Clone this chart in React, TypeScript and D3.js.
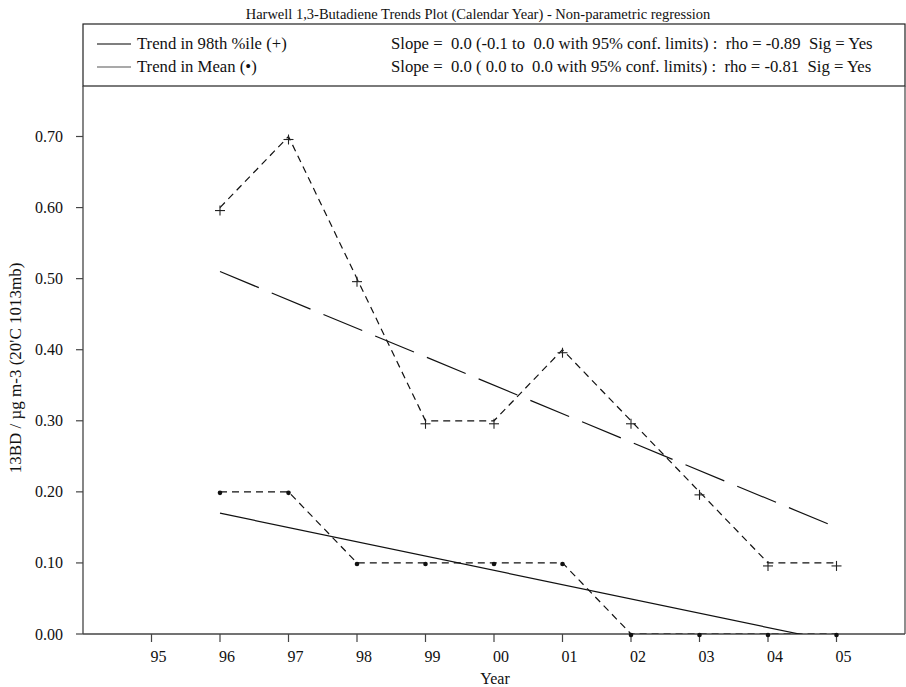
import React from "react";
import * as d3 from "d3";

const years = [1996, 1997, 1998, 1999, 2000, 2001, 2002, 2003, 2004, 2005];
const p98 = [0.6, 0.7, 0.5, 0.3, 0.3, 0.4, 0.3, 0.2, 0.1, 0.1];
const meanVals = [0.2, 0.2, 0.1, 0.1, 0.1, 0.1, 0.0, 0.0, 0.0, 0.0];
const trendP98 = [
  [1996, 0.51],
  [2005, 0.15],
];
const trendMean = [
  [1996, 0.17],
  [2005, -0.011],
];
const xTicks = [1995, 1996, 1997, 1998, 1999, 2000, 2001, 2002, 2003, 2004, 2005];
const yTicks = [0, 0.1, 0.2, 0.3, 0.4, 0.5, 0.6, 0.7];
const title = "Harwell 1,3-Butadiene Trends Plot (Calendar Year) - Non-parametric regression";
const legendRows = [
  { label: "Trend in 98th %ile (+)", stats: "Slope =  0.0 (-0.1 to  0.0 with 95% conf. limits) :  rho = -0.89  Sig = Yes", color: "#000" },
  { label: "Trend in Mean (•)", stats: "Slope =  0.0 ( 0.0 to  0.0 with 95% conf. limits) :  rho = -0.81  Sig = Yes", color: "#555" },
];

export default function App() {
  const W = 906, H = 687;
  const left = 83, right = 905, top = 86, bottom = 634;
  const x = d3.scaleLinear().domain([1994, 2006]).range([left, right]);
  const y = d3.scaleLinear().domain([0, 0.7]).range([bottom, 136.5]);
  const line = d3.line<[number, number]>().x((d) => x(d[0])).y((d) => y(d[1]));
  const p98pts = years.map((yr, i) => [yr, p98[i]] as [number, number]);
  const meanPts = years.map((yr, i) => [yr, meanVals[i]] as [number, number]);
  const font = "'Liberation Serif', 'DejaVu Serif', serif";
  const fmtYear = (v: number) => String(v % 100).padStart(2, "0");
  return (
    <svg width={W} height={H} style={{ position: "absolute", left: 0, top: 0, background: "#fff" }} fontFamily={font}>
      <defs>
        <clipPath id="plotClip">
          <rect x={left} y={top} width={right - left} height={bottom - top} />
        </clipPath>
      </defs>
      <text x={478} y={19} textAnchor="middle" fontSize={14.5} fill="#111">{title}</text>
      {/* legend box */}
      <rect x={left} y={24} width={right - left} height={top - 24} fill="none" stroke="#222" strokeWidth={1.2} />
      {legendRows.map((r, i) => {
        const ly = 44 + i * 23;
        return (
          <g key={i}>
            <line x1={97} x2={131} y1={ly} y2={ly} stroke={r.color} strokeWidth={1.2} />
            <text x={137} y={ly + 5} fontSize={16.7} fill="#111">{r.label}</text>
            <text x={391} y={ly + 5} fontSize={16.7} fill="#111" style={{ whiteSpace: "pre" }}>{r.stats}</text>
          </g>
        );
      })}
      {/* plot frame */}
      <line x1={right} x2={right} y1={top} y2={bottom} stroke="#444" strokeWidth={1.2} />
      <line x1={left} x2={left} y1={top} y2={bottom} stroke="#444" strokeWidth={1.3} />
      <line x1={left} x2={right} y1={bottom} y2={bottom} stroke="#444" strokeWidth={1.3} />
      {yTicks.map((t) => (
        <g key={t}>
          <line x1={left - 7} x2={left} y1={y(t)} y2={y(t)} stroke="#444" strokeWidth={1.2} />
          <text x={63} y={y(t) + 5.5} textAnchor="end" fontSize={16} fill="#111">{t.toFixed(2)}</text>
        </g>
      ))}
      {xTicks.map((t) => (
        <g key={t}>
          <line x1={x(t)} x2={x(t)} y1={bottom} y2={bottom + 8} stroke="#444" strokeWidth={1.2} />
          <text x={x(t) + 7} y={bottom + 28} textAnchor="middle" fontSize={16} fill="#111">{fmtYear(t)}</text>
        </g>
      ))}
      <text x={495} y={684} textAnchor="middle" fontSize={16} fill="#111">Year</text>
      <text transform={`translate(21,${368}) rotate(-90)`} textAnchor="middle" fontSize={17} fill="#111">13BD / µg m-3 (20'C 1013mb)</text>
      <g clipPath="url(#plotClip)">
        <path d={line(p98pts) || ""} fill="none" stroke="#111" strokeWidth={1.2} strokeDasharray="7,5" />
        <path d={line(meanPts) || ""} fill="none" stroke="#111" strokeWidth={1.2} strokeDasharray="7,5" />
        <path d={line(trendP98 as [number, number][]) || ""} fill="none" stroke="#111" strokeWidth={1.2} strokeDasharray="42,14" />
        <path d={line(trendMean as [number, number][]) || ""} fill="none" stroke="#111" strokeWidth={1.2} />
      </g>
      {p98pts.map((p, i) => (
        <g key={"p" + i} stroke="#222" strokeWidth={1.1}>
          <line x1={x(p[0]) - 5} x2={x(p[0]) + 5} y1={y(p[1]) + 3} y2={y(p[1]) + 3} />
          <line x1={x(p[0])} x2={x(p[0])} y1={y(p[1]) - 2} y2={y(p[1]) + 8} />
        </g>
      ))}
      {meanPts.map((p, i) => (
        <circle key={"m" + i} cx={x(p[0])} cy={y(p[1]) + 1} r={2.3} fill="#111" />
      ))}
    </svg>
  );
}
